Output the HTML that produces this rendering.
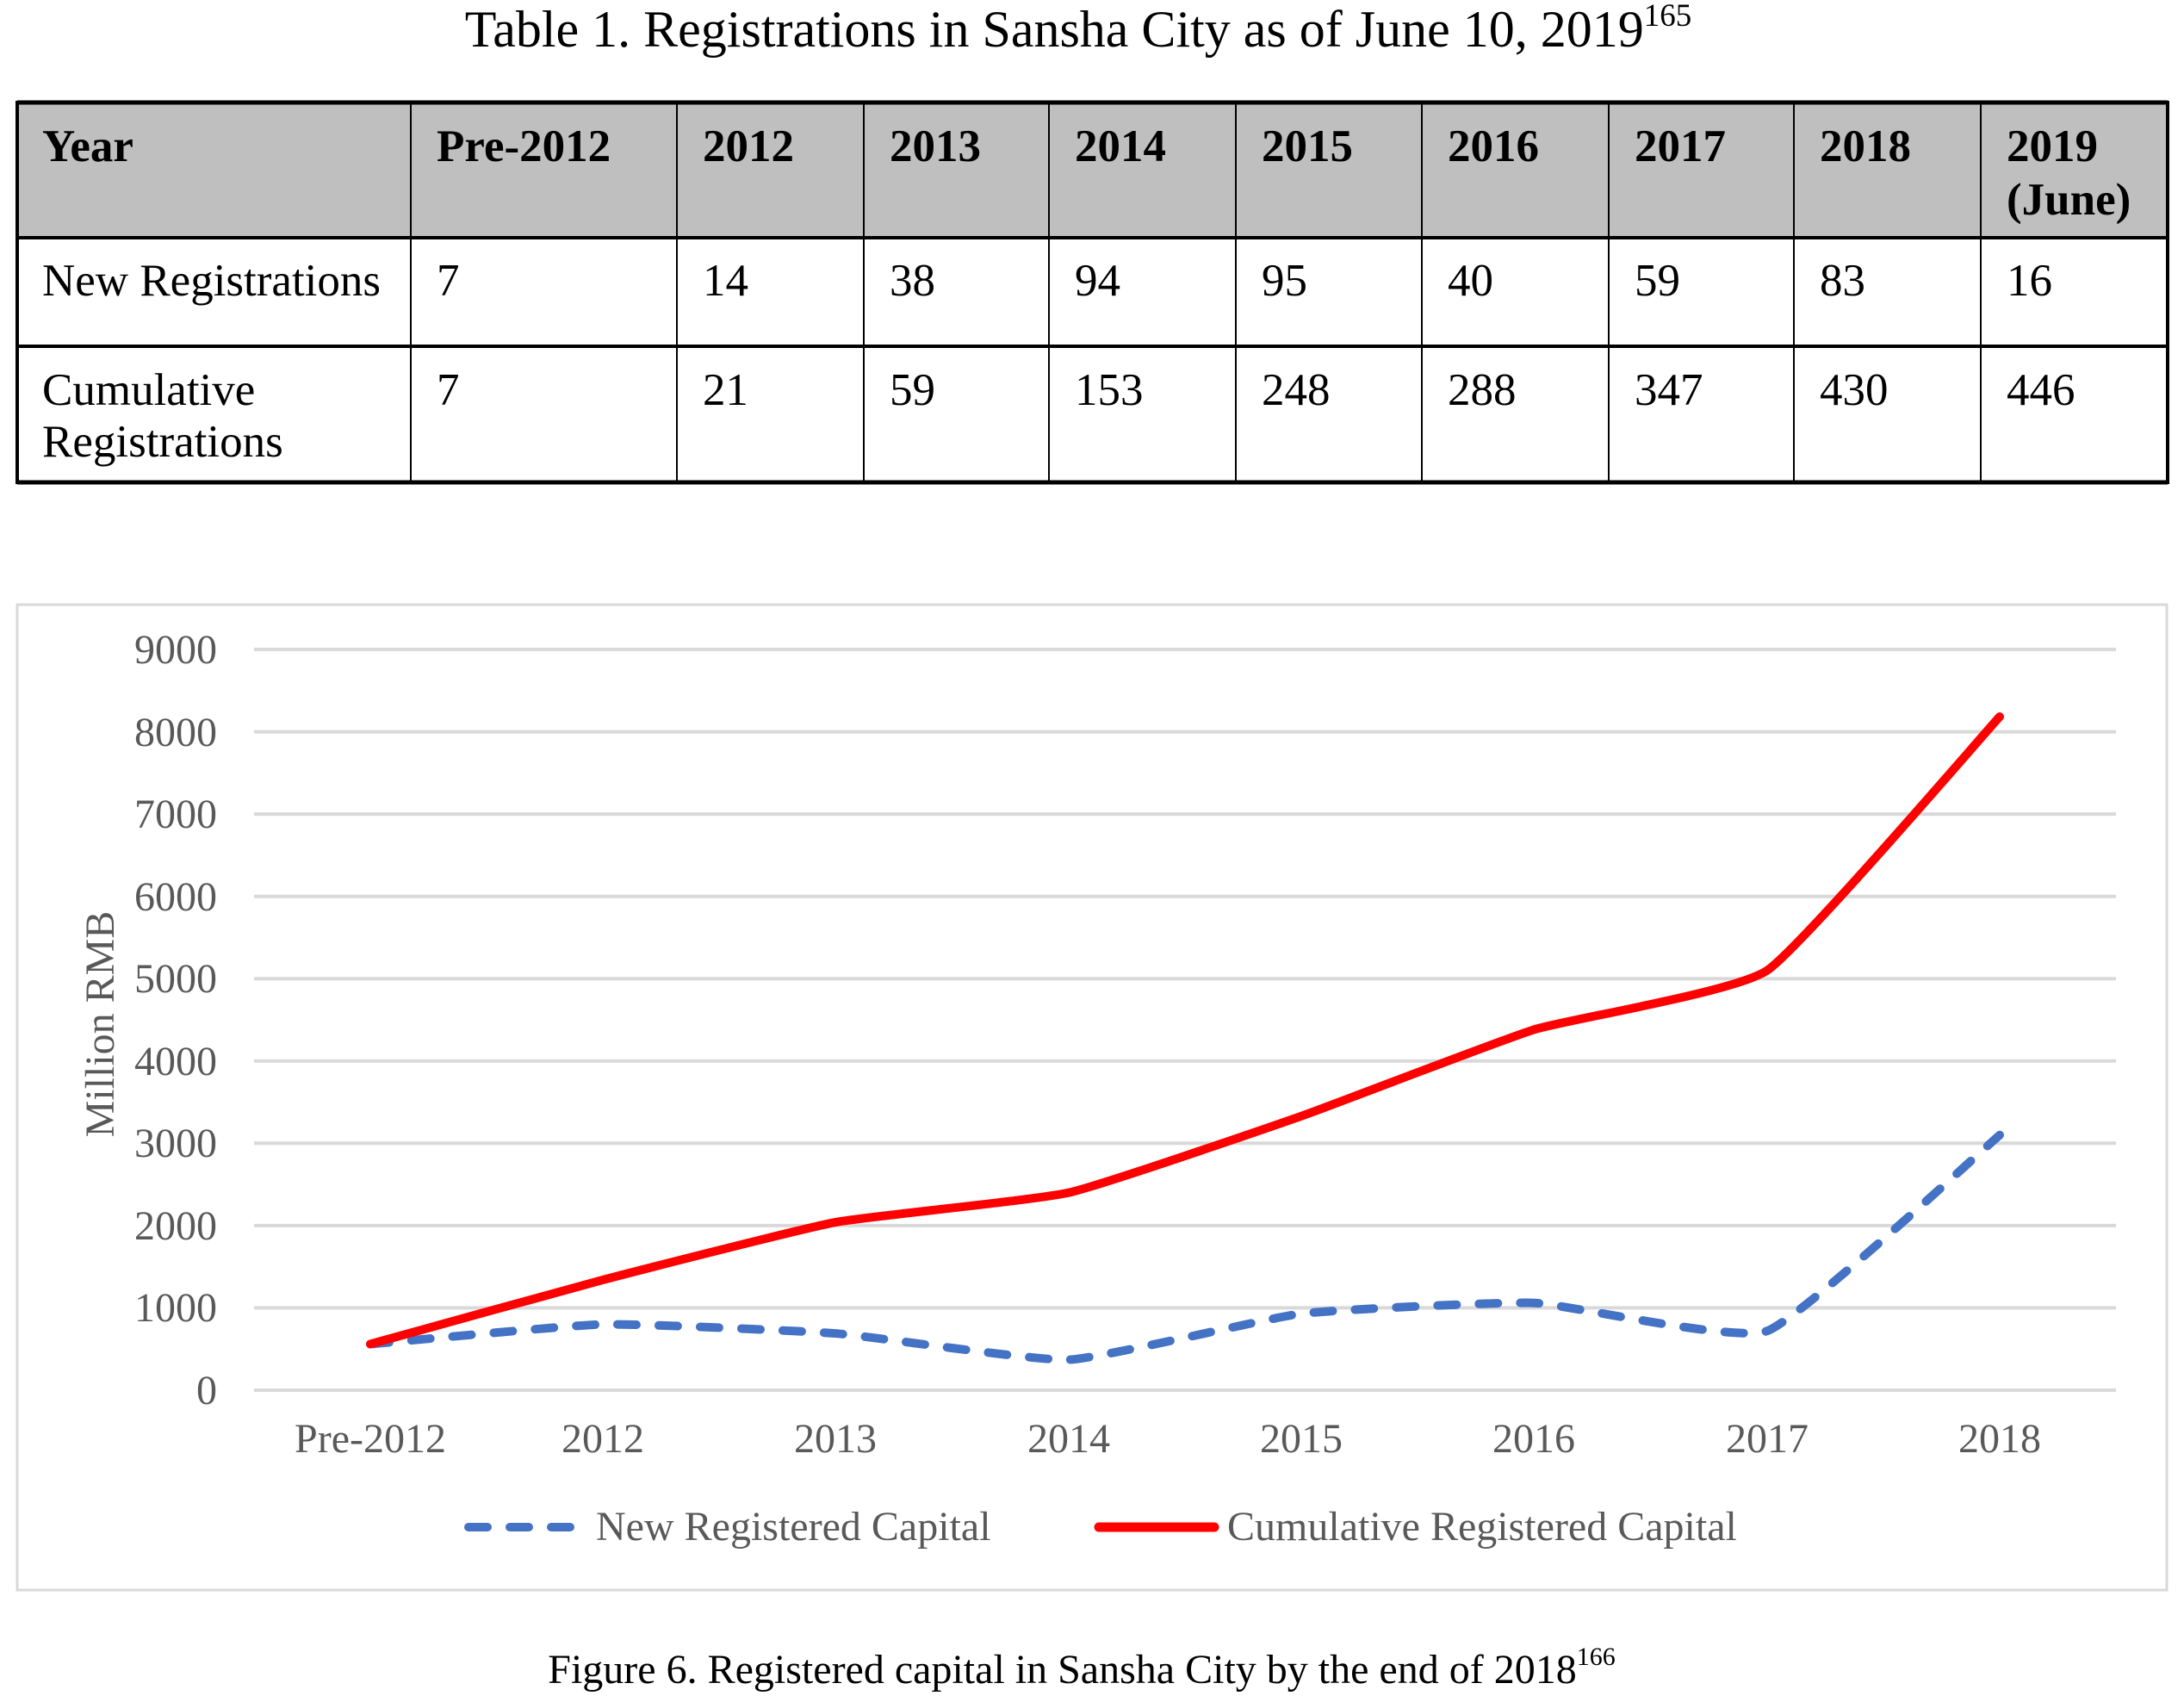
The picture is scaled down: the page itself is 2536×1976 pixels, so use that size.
<!DOCTYPE html>
<html><head><meta charset="utf-8"><style>
html,body{margin:0;padding:0;background:#fff;}
svg{display:block;}
text{font-family:"Liberation Serif","Times New Roman",serif;}
</style></head><body>
<svg id="s" width="2536" height="1976" viewBox="0 0 2536 1976" xmlns="http://www.w3.org/2000/svg">
<rect width="2536" height="1976" fill="#fff"/>
<text x="1252" y="54" font-size="60" text-anchor="middle" fill="#000">Table 1. Registrations in Sansha City as of June 10, 2019<tspan font-size="37" dy="-24">165</tspan></text>
<!-- table -->
<rect x="20" y="119" width="2497" height="157" fill="#bfbfbf"/>
<g stroke="#000">
<line x1="20" y1="119" x2="2517" y2="119" stroke-width="5"/>
<line x1="20" y1="276" x2="2517" y2="276" stroke-width="4"/>
<line x1="20" y1="402" x2="2517" y2="402" stroke-width="4"/>
<line x1="20" y1="560" x2="2517" y2="560" stroke-width="5"/>
<line x1="20" y1="117" x2="20" y2="562" stroke-width="4"/>
<line x1="2517" y1="117" x2="2517" y2="562" stroke-width="4"/>
<g stroke-width="2">
<line x1="477" y1="119" x2="477" y2="560"/><line x1="786" y1="119" x2="786" y2="560"/>
<line x1="1003" y1="119" x2="1003" y2="560"/><line x1="1218" y1="119" x2="1218" y2="560"/>
<line x1="1435" y1="119" x2="1435" y2="560"/><line x1="1651" y1="119" x2="1651" y2="560"/>
<line x1="1868" y1="119" x2="1868" y2="560"/><line x1="2083" y1="119" x2="2083" y2="560"/>
<line x1="2300" y1="119" x2="2300" y2="560"/>
</g></g>
<g font-size="53" fill="#000">
<g font-weight="bold">
<text x="49" y="187">Year</text><text x="507" y="187">Pre-2012</text><text x="816" y="187">2012</text>
<text x="1033" y="187">2013</text><text x="1248" y="187">2014</text><text x="1465" y="187">2015</text>
<text x="1681" y="187">2016</text><text x="1898" y="187">2017</text><text x="2113" y="187">2018</text>
<text x="2330" y="187">2019</text><text x="2330" y="249">(June)</text>
</g>
<text x="49" y="343">New Registrations</text><text x="507" y="343">7</text><text x="816" y="343">14</text>
<text x="1033" y="343">38</text><text x="1248" y="343">94</text><text x="1465" y="343">95</text>
<text x="1681" y="343">40</text><text x="1898" y="343">59</text><text x="2113" y="343">83</text><text x="2330" y="343">16</text>
<text x="49" y="470">Cumulative</text><text x="49" y="530">Registrations</text>
<text x="507" y="470">7</text><text x="816" y="470">21</text>
<text x="1033" y="470">59</text><text x="1248" y="470">153</text><text x="1465" y="470">248</text>
<text x="1681" y="470">288</text><text x="1898" y="470">347</text><text x="2113" y="470">430</text><text x="2330" y="470">446</text>
</g>
<!-- chart -->
<rect x="20" y="702" width="2496" height="1144" fill="none" stroke="#d9d9d9" stroke-width="3"/>
<g stroke="#d9d9d9" stroke-width="4">
<line x1="295" x2="2457" y1="754" y2="754"/><line x1="295" x2="2457" y1="849.6" y2="849.6"/>
<line x1="295" x2="2457" y1="945.1" y2="945.1"/><line x1="295" x2="2457" y1="1040.7" y2="1040.7"/>
<line x1="295" x2="2457" y1="1136.2" y2="1136.2"/><line x1="295" x2="2457" y1="1231.8" y2="1231.8"/>
<line x1="295" x2="2457" y1="1327.3" y2="1327.3"/><line x1="295" x2="2457" y1="1422.9" y2="1422.9"/>
<line x1="295" x2="2457" y1="1518.4" y2="1518.4"/><line x1="295" x2="2457" y1="1614" y2="1614"/>
</g>
<g font-size="48" fill="#595959" text-anchor="end">
<text x="252" y="770">9000</text><text x="252" y="866">8000</text><text x="252" y="961">7000</text>
<text x="252" y="1057">6000</text><text x="252" y="1152">5000</text><text x="252" y="1248">4000</text>
<text x="252" y="1343">3000</text><text x="252" y="1439">2000</text><text x="252" y="1534">1000</text>
<text x="252" y="1630">0</text>
</g>
<g font-size="48" fill="#595959" text-anchor="middle">
<text x="430" y="1686">Pre-2012</text><text x="700" y="1686">2012</text><text x="970" y="1686">2013</text>
<text x="1241" y="1686">2014</text><text x="1511" y="1686">2015</text><text x="1781" y="1686">2016</text>
<text x="2052" y="1686">2017</text><text x="2322" y="1686">2018</text>
</g>
<text transform="translate(132,1189) rotate(-90)" font-size="48" fill="#595959" text-anchor="middle">Million RMB</text>
<path id="blue" fill="none" stroke="#4472c4" stroke-width="10" stroke-dasharray="22 26" stroke-linecap="round" stroke-linejoin="round"/>
<path id="red" fill="none" stroke="#ff0000" stroke-width="10" stroke-linecap="round" stroke-linejoin="round"/>
<line x1="544" y1="1773" x2="668" y2="1773" stroke="#4472c4" stroke-width="10" stroke-dasharray="22 26" stroke-linecap="round"/>
<text x="692" y="1788" font-size="48" fill="#595959">New Registered Capital</text>
<line x1="1276" y1="1773" x2="1410" y2="1773" stroke="#ff0000" stroke-width="11" stroke-linecap="round"/>
<text x="1425" y="1788" font-size="48" fill="#595959">Cumulative Registered Capital</text>
<text x="1256" y="1954" font-size="48" text-anchor="middle" fill="#000">Figure 6. Registered capital in Sansha City by the end of 2018<tspan font-size="30" dy="-21">166</tspan></text>
</svg>
<script>
var xs=[430,700,970,1241,1511,1781,2052,2322];
function y(v){return 1614-v*0.09556;}
function path(vals){
 var p=xs.map(function(x,i){return [x,y(vals[i])];});
 var d="M"+p[0][0]+","+p[0][1];
 var t=0.07;
 for(var i=0;i<p.length-1;i++){
  var p0=p[i-1]||p[i],p1=p[i],p2=p[i+1],p3=p[i+2]||p[i+1];
  var c1=[p1[0]+(p2[0]-p0[0])*t,p1[1]+(p2[1]-p0[1])*t];
  var c2=[p2[0]-(p3[0]-p1[0])*t,p2[1]-(p3[1]-p1[1])*t];
  d+=" C"+c1[0]+","+c1[1]+" "+c2[0]+","+c2[1]+" "+p2[0]+","+p2[1];
 }
 return d;
}
document.getElementById("blue").setAttribute("d",path([560,800,690,370,930,1060,720,3100]));
document.getElementById("red").setAttribute("d",path([560,1340,2040,2400,3330,4380,5100,8183]));
</script>
</body></html>
